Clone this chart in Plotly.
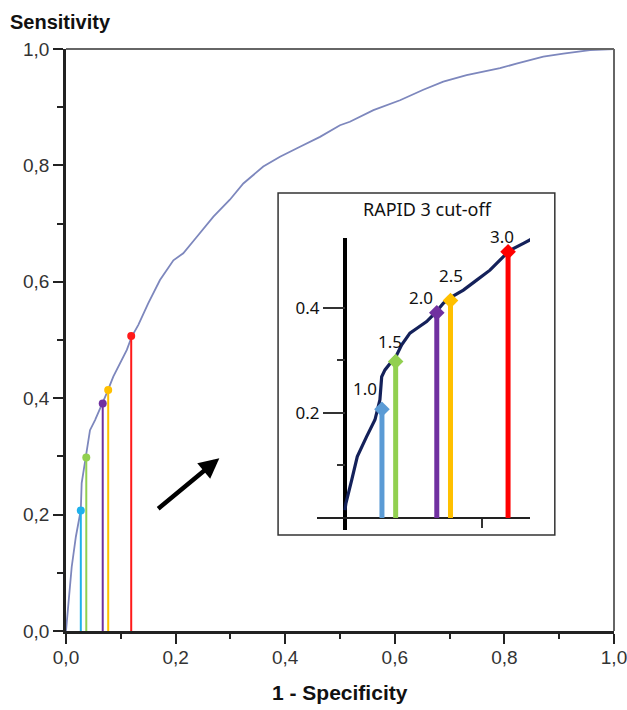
import plotly.graph_objects as go

# ROC curve
roc_x = [0, 0.004, 0.0104, 0.018, 0.027, 0.0286, 0.0365, 0.0438, 0.053, 0.065, 0.074,
         0.0863, 0.0985, 0.111, 0.12, 0.132, 0.150, 0.1715, 0.196, 0.214, 0.2385, 0.269,
         0.299, 0.3236, 0.36, 0.3905, 0.427, 0.4635, 0.5, 0.518, 0.561, 0.6095, 0.652,
         0.6885, 0.731, 0.792, 0.822, 0.871, 0.9075, 0.956, 1.0]
roc_y = [0, 0.0475, 0.11, 0.162, 0.208, 0.254, 0.2995, 0.345, 0.3625, 0.388, 0.408,
         0.437, 0.46, 0.483, 0.506, 0.526, 0.563, 0.603, 0.637, 0.649, 0.677, 0.712,
         0.741, 0.769, 0.798, 0.815, 0.832, 0.849, 0.869, 0.875, 0.895, 0.912, 0.93,
         0.944, 0.955, 0.967, 0.975, 0.987, 0.992, 0.998, 1.0]

# zoomed curve drawn in the inset
zoom_x = [0, 0.0007, 0.0049, 0.009, 0.0158, 0.0219, 0.0255, 0.0268, 0.0292, 0.034, 0.0377,
          0.0414, 0.0474, 0.0523, 0.0596, 0.0657, 0.0718, 0.0779, 0.0864, 0.0961, 0.1058,
          0.1156, 0.1204, 0.1302, 0.1375]
zoom_y = [0.015, 0.028, 0.072, 0.117, 0.155, 0.187, 0.225, 0.269, 0.282, 0.298, 0.31,
          0.33, 0.352, 0.361, 0.374, 0.39, 0.409, 0.421, 0.434, 0.453, 0.472, 0.498,
          0.51, 0.523, 0.533]

# RAPID 3 cut-offs
cut_labels = ["1.0", "1.5", "2.0", "2.5", "3.0"]
cut_x = [0.027, 0.037, 0.067, 0.077, 0.119]
cut_y = [0.207, 0.298, 0.391, 0.414, 0.507]
main_colors = ["#1eb1ec", "#92d050", "#7030a0", "#ffc000", "#ff1a1a"]
inset_colors = ["#5b9bd5", "#92d050", "#7030a0", "#ffc000", "#ff0000"]

main_ticks = [0, 0.2, 0.4, 0.6, 0.8, 1.0]
main_ticktext = ["0,0", "0,2", "0,4", "0,6", "0,8", "1,0"]
main_minor = [0.1, 0.3, 0.5, 0.7, 0.9]
inset_ticks = [0.2, 0.4]
inset_ticktext = ["0.2", "0.4"]
inset_minor = [0.1, 0.3]

label_shift = [(-17, 21), (-6, 20), (-16, 15), (1, 25), (-6, 15)]

fig = go.Figure()

fig.add_trace(go.Scatter(x=roc_x, y=roc_y, mode="lines",
                         line=dict(color="#7d87bd", width=1.8), showlegend=False))
for cx, cy, col in zip(cut_x, cut_y, main_colors):
    fig.add_trace(go.Scatter(x=[cx, cx], y=[0, cy], mode="lines",
                             line=dict(color=col, width=2), showlegend=False))
fig.add_trace(go.Scatter(x=cut_x, y=cut_y, mode="markers",
                         marker=dict(color=main_colors, size=8), showlegend=False))

# inset
for cx, cy, col in zip(cut_x, cut_y, inset_colors):
    fig.add_trace(go.Scatter(x=[cx, cx], y=[0, cy], mode="lines", xaxis="x2", yaxis="y2",
                             line=dict(color=col, width=5), showlegend=False))
fig.add_trace(go.Scatter(x=zoom_x, y=zoom_y, mode="lines", xaxis="x2", yaxis="y2",
                         line=dict(color="#14215a", width=3.2), showlegend=False))
fig.add_trace(go.Scatter(x=cut_x, y=cut_y, mode="markers", xaxis="x2", yaxis="y2",
                         marker=dict(color=inset_colors, size=12, symbol="diamond"),
                         showlegend=False))

inset_font = dict(family="Noto Sans", size=17, color="#111")
annotations = []
for lab, cx, cy, (dx, dy) in zip(cut_labels, cut_x, cut_y, label_shift):
    annotations.append(dict(x=cx, y=cy, xref="x2", yref="y2", text=lab, showarrow=False,
                            xshift=dx, yshift=dy, font=inset_font))
annotations += [
    dict(x=0.659, y=0.725, xref="paper", yref="paper", text="RAPID 3 cut-off",
         yanchor="middle", showarrow=False,
         font=dict(family="Noto Sans", size=18, color="#111")),
    dict(x=-0.106, y=1.046, xref="paper", yref="paper", text="<b>Sensitivity</b>",
         xanchor="left", yanchor="middle", showarrow=False,
         font=dict(family="Liberation Sans", size=20, color="#111")),
    dict(x=0.5, y=-0.1065, xref="paper", yref="paper", text="<b>1 - Specificity</b>",
         xanchor="center", yanchor="middle", showarrow=False,
         font=dict(family="Liberation Sans", size=21, color="#111")),
    dict(x=0.2798, y=0.297, ax=0.1655, ay=0.208, xref="x", yref="y", axref="x", ayref="y",
         text="", showarrow=True, arrowhead=2, arrowsize=0.9, arrowwidth=4.5,
         arrowcolor="black"),
]

axis_font = dict(family="Liberation Sans", size=19, color="#333")

fig.update_layout(
    width=627, height=710, autosize=False,
    margin=dict(l=66, r=13, t=49, b=79),
    plot_bgcolor="white", paper_bgcolor="white",
    xaxis=dict(range=[0, 1], showgrid=False, zeroline=False, showline=True, automargin=False,
               linecolor="#222", linewidth=2.5, ticks="outside", ticklen=10, tickwidth=2,
               tickcolor="#222", tickvals=main_ticks, ticktext=main_ticktext,
               tickfont=axis_font, ticklabeloverflow="allow", ticklabelstandoff=-3,
               minor=dict(tickmode="array", tickvals=main_minor, ticklen=5, tickwidth=2,
                          tickcolor="#222", showgrid=False)),
    yaxis=dict(range=[0, 1], showgrid=False, zeroline=False, showline=True, automargin=False,
               linecolor="#222", linewidth=2.5, ticks="outside", ticklen=10, tickwidth=2,
               tickcolor="#222", tickvals=main_ticks, ticktext=main_ticktext,
               tickfont=axis_font, ticklabeloverflow="allow",
               minor=dict(tickmode="array", tickvals=main_minor, ticklen=6, tickwidth=2,
                          tickcolor="#222", showgrid=False)),
    xaxis2=dict(domain=[0.458, 0.8467], range=[-0.0204, 0.135], anchor="free",
                position=0.194, showgrid=False, showline=False, automargin=False,
                zeroline=True, zerolinecolor="black", zerolinewidth=4,
                ticks="outside", ticklen=9, tickwidth=1.5, tickcolor="#333",
                tickvals=[0.1], showticklabels=False),
    yaxis2=dict(domain=[0.1735, 0.6753], range=[-0.0229, 0.5333], anchor="free",
                position=0.5091, showgrid=False, showline=False, automargin=False,
                zeroline=True, zerolinecolor="#222", zerolinewidth=1.5,
                ticks="outside", ticklen=22, tickwidth=1.5, tickcolor="#333",
                tickvals=inset_ticks, ticktext=inset_ticktext, tickfont=inset_font,
                minor=dict(tickmode="array", tickvals=inset_minor, ticklen=8,
                           tickwidth=1.5, tickcolor="#333", showgrid=False)),
    shapes=[
        dict(type="line", xref="paper", yref="paper", x0=0, x1=1, y0=1, y1=1,
             line=dict(color="#666", width=2)),
        dict(type="line", xref="paper", yref="paper", x0=1, x1=1, y0=0, y1=1,
             line=dict(color="#666", width=2)),
        dict(type="rect", xref="paper", yref="paper", x0=0.387, x1=0.892,
             y0=0.165, y1=0.7526, line=dict(color="#333", width=1.5)),
    ],
    annotations=annotations,
)

# the page's default body margin would push the figure 8px off
fig.write_html("out.html", config={"displayModeBar": False},
               post_script="document.body.style.margin='0';")
